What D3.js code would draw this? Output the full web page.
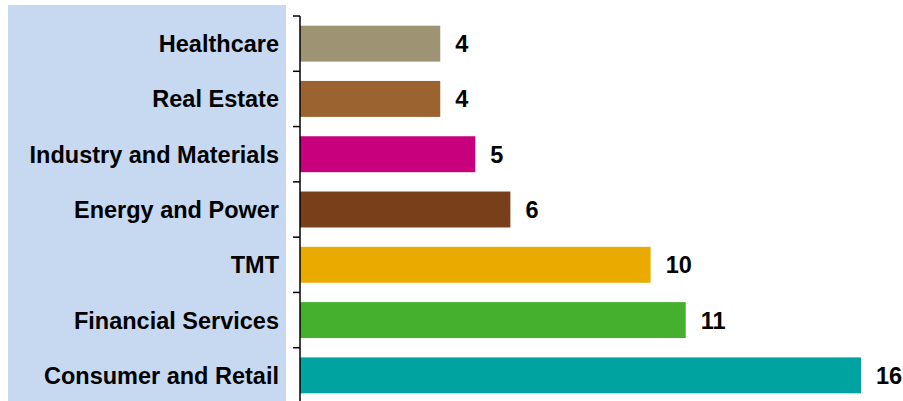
<!DOCTYPE html>
<html>
<head>
<meta charset="utf-8">
<script src="https://cdn.jsdelivr.net/npm/d3@7"></script>
<style>
  html, body { margin: 0; padding: 0; background: #fff; }
  svg { display: block; }
</style>
</head>
<body>
<svg id="chart" width="903" height="401"></svg>
<script>
const categories = ["Healthcare", "Real Estate", "Industry and Materials", "Energy and Power", "TMT", "Financial Services", "Consumer and Retail"];
const values = [4, 4, 5, 6, 10, 11, 16];
const colors = ["#9E9474", "#9A6330", "#C8007E", "#773F1A", "#EBAA00", "#45B02E", "#00A3A0"];

const svg = d3.select("#chart");
const W = 903, H = 401;

// label panel
svg.append("rect").attr("x", 8).attr("y", 5).attr("width", 278).attr("height", H - 5).attr("fill", "#C6D9F0");

const x = d3.scaleLinear().domain([0, 16]).range([300, 861]);
const y = d3.scaleBand().domain(categories).range([16, 403]).paddingInner(0.35).paddingOuter(0.175);

// bars
svg.append("g").selectAll("rect").data(categories).join("rect")
  .attr("x", x(0))
  .attr("y", d => y(d))
  .attr("width", (d, i) => x(values[i]) - x(0))
  .attr("height", y.bandwidth())
  .attr("fill", (d, i) => colors[i]);

// axis line and ticks at band boundaries
const step = y.step();
const boundaries = d3.range(categories.length + 1).map(i => y.range()[0] + i * step);
const ax = svg.append("g");
ax.append("line").attr("x1", x(0)).attr("x2", x(0)).attr("y1", boundaries[0]).attr("y2", boundaries[boundaries.length - 1])
  .attr("stroke", "#000").attr("stroke-width", 1.5);
ax.selectAll("line.tick").data(boundaries).join("line").attr("class", "tick")
  .attr("x1", x(0) - 7).attr("x2", x(0)).attr("y1", d => d).attr("y2", d => d)
  .attr("stroke", "#000").attr("stroke-width", 1.5);

// category labels
svg.append("g").selectAll("text").data(categories).join("text")
  .attr("x", 279)
  .attr("y", d => y(d) + y.bandwidth() / 2)
  .attr("dy", "0.36em")
  .attr("text-anchor", "end")
  .attr("font-family", "Liberation Sans, Arial, sans-serif")
  .attr("font-weight", "bold")
  .attr("font-size", 23.5)
  .attr("fill", "#000")
  .text(d => d);

// value labels
svg.append("g").selectAll("text").data(categories).join("text")
  .attr("x", (d, i) => x(values[i]) + 15)
  .attr("y", d => y(d) + y.bandwidth() / 2)
  .attr("dy", "0.36em")
  .attr("font-family", "Liberation Sans, Arial, sans-serif")
  .attr("font-weight", "bold")
  .attr("font-size", 23.5)
  .attr("fill", "#000")
  .text((d, i) => values[i]);
</script>
</body>
</html>
